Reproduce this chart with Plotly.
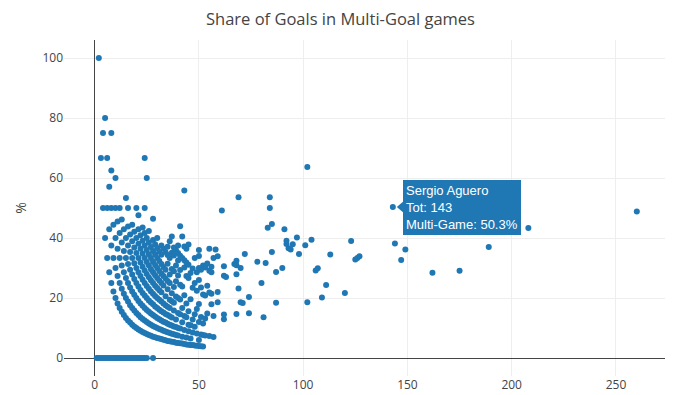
import plotly.graph_objects as go

# Total goals per player (x) and share of those goals scored in multi-goal games, % (y)
total_goals = [
    1,
    2, 2,
    3, 3,
    4, 4, 4,
    5, 5, 5,
    6, 6, 6, 6,
    7, 7, 7, 7,
    8, 8, 8, 8, 8, 8,
    9, 9, 9, 9,
    10, 10, 10, 10, 10, 10,
    11, 11, 11, 11, 11,
    12, 12, 12, 12, 12, 12,
    13, 13, 13, 13, 13, 13,
    14, 14, 14, 14, 14, 14,
    15, 15, 15, 15, 15, 15, 15,
    16, 16, 16, 16, 16, 16, 16, 16,
    17, 17, 17, 17, 17, 17, 17,
    18, 18, 18, 18, 18, 18, 18, 18,
    19, 19, 19, 19, 19, 19, 19, 19,
    20, 20, 20, 20, 20, 20, 20, 20, 20,
    21, 21, 21, 21, 21, 21, 21, 21, 21, 21,
    22, 22, 22, 22, 22, 22, 22, 22, 22,
    23, 23, 23, 23, 23, 23, 23, 23, 23, 23,
    24, 24, 24, 24, 24, 24, 24, 24, 24, 24, 24, 24,
    25, 25, 25, 25, 25, 25, 25, 25, 25, 25, 25,
    26, 26, 26, 26, 26, 26, 26, 26, 26, 26,
    27, 27, 27, 27, 27, 27, 27, 27, 27,
    28, 28, 28, 28, 28, 28, 28, 28, 28, 28, 28, 28,
    29, 29, 29, 29, 29, 29, 29, 29, 29, 29,
    30, 30, 30, 30, 30, 30, 30, 30, 30, 30, 30,
    31, 31, 31, 31, 31, 31, 31, 31, 31, 31,
    32, 32, 32, 32, 32, 32, 32, 32, 32, 32, 32,
    33, 33, 33, 33, 33, 33, 33, 33, 33,
    34, 34, 34, 34, 34, 34, 34, 34, 34,
    35, 35, 35, 35, 35, 35, 35, 35, 35, 35,
    36, 36, 36, 36, 36, 36, 36, 36, 36, 36,
    37, 37, 37, 37, 37, 37, 37, 37, 37,
    38, 38, 38, 38, 38, 38, 38, 38, 38,
    39, 39, 39, 39, 39, 39, 39, 39,
    40, 40, 40, 40, 40, 40, 40, 40, 40,
    41, 41, 41, 41, 41, 41, 41, 41,
    42, 42, 42, 42, 42, 42, 42,
    43, 43, 43, 43, 43, 43, 43, 43,
    44, 44, 44, 44, 44, 44, 44,
    45, 45, 45, 45, 45, 45, 45,
    46, 46, 46, 46, 46,
    47, 47, 47, 47, 47,
    48, 48, 48, 48, 48,
    49, 49, 49, 49, 49,
    50, 50, 50, 50, 50, 50, 50, 50,
    51, 51, 51, 51, 51,
    52, 52, 52, 52, 52,
    53, 53, 53, 53,
    54, 54, 54,
    55, 55, 55, 55,
    56, 56, 56, 56,
    57, 57, 57,
    58,
    59, 59, 59,
    61,
    62, 62, 62, 62,
    63,
    67,
    68, 68, 68, 68,
    69, 69,
    70, 70,
    71,
    72,
    74, 74,
    78,
    80,
    81,
    82,
    83,
    84, 84,
    85, 85,
    87, 87,
    90,
    91,
    92, 92,
    93,
    94,
    95,
    97,
    98,
    101,
    102, 102,
    104,
    106,
    107,
    109,
    111,
    113,
    120,
    123,
    125,
    126,
    127,
    143,
    144,
    147,
    149,
    162,
    175,
    189,
    208,
    260,
]

multi_goal_share = [
    0,
    0, 100,
    0, 66.7,
    0, 50, 75,
    0, 40, 80,
    0, 33.3, 50, 66.7,
    0, 28.6, 42.9, 57.1,
    0, 25, 37.5, 50, 62.5, 75,
    0, 22.2, 33.3, 44.4,
    0, 20, 30, 40, 50, 60,
    0, 18.2, 27.3, 36.4, 45.5,
    0, 16.7, 25, 33.3, 41.7, 50,
    0, 15.4, 23.1, 30.8, 38.5, 46.2,
    0, 14.3, 21.4, 28.6, 35.7, 42.9,
    0, 13.3, 20, 26.7, 33.3, 40, 53.3,
    0, 12.5, 18.8, 25, 31.3, 37.5, 43.8, 50,
    0, 11.8, 17.6, 23.5, 29.4, 35.3, 41.2,
    0, 11.1, 16.7, 22.2, 27.8, 33.3, 38.9, 44.4,
    0, 10.5, 15.8, 21.1, 26.3, 31.6, 36.8, 42.1,
    0, 10, 15, 20, 25, 30, 35, 40, 50,
    0, 9.5, 14.3, 19, 23.8, 28.6, 33.3, 38.1, 42.9, 47.6,
    0, 9.1, 13.6, 18.2, 22.7, 27.3, 31.8, 36.4, 40.9,
    0, 8.7, 13, 17.4, 21.7, 26.1, 30.4, 34.8, 39.1, 43.5,
    0, 8.3, 12.5, 16.7, 20.8, 25, 29.2, 33.3, 37.5, 41.7, 50, 66.7,
    0, 8, 12, 16, 20, 24, 28, 32, 36, 40, 60,
    7.7, 11.5, 15.4, 19.2, 23.1, 26.9, 30.8, 34.6, 38.5, 42.3,
    7.4, 11.1, 14.8, 18.5, 22.2, 25.9, 29.6, 33.3, 37,
    0, 7.1, 10.7, 14.3, 17.9, 21.4, 25, 28.6, 32.1, 35.7, 39.3, 46.4,
    6.9, 10.3, 13.8, 17.2, 20.7, 24.1, 27.6, 31, 34.5, 37.9,
    6.7, 10, 13.3, 16.7, 20, 23.3, 26.7, 30, 33.3, 36.7, 40,
    6.5, 9.7, 12.9, 16.1, 19.4, 22.6, 25.8, 29, 32.3, 35.5,
    6.3, 9.4, 12.5, 15.6, 18.8, 21.9, 25, 28.1, 31.3, 34.4, 37.5,
    6.1, 9.1, 12.1, 15.2, 18.2, 24.2, 27.3, 30.3, 36.4,
    5.9, 8.8, 11.8, 14.7, 17.6, 20.6, 26.5, 29.4, 35.3,
    5.7, 8.6, 11.4, 14.3, 17.1, 22.9, 25.7, 31.4, 34.3, 37.1,
    5.6, 8.3, 11.1, 13.9, 16.7, 19.4, 25, 27.8, 33.3, 38.9,
    5.4, 8.1, 10.8, 13.5, 18.9, 21.6, 29.7, 35.1, 40.5,
    5.3, 7.9, 10.5, 15.8, 18.4, 23.7, 28.9, 34.2, 36.8,
    5.1, 7.7, 10.3, 12.8, 20.5, 25.6, 30.8, 35.9,
    5, 7.5, 10, 15, 20, 27.5, 32.5, 35, 37.5,
    4.9, 9.8, 14.6, 19.5, 24.4, 29.3, 34.1, 43.9,
    4.8, 7.1, 11.9, 16.7, 23.8, 33.3, 40.5,
    4.7, 9.3, 14, 20.9, 30.2, 32.6, 37.2, 55.8,
    4.5, 6.8, 13.6, 18.2, 27.3, 31.8, 36.4,
    4.4, 8.9, 11.1, 15.6, 26.7, 31.1, 37.8,
    4.3, 6.5, 10.9, 19.6, 28.3,
    4.3, 8.5, 12.8, 23.4, 29.8,
    4.2, 10.4, 14.6, 25, 33.3,
    4.1, 8.2, 16.3, 22.4, 28.6,
    4, 6, 12, 18, 26, 30, 34, 36,
    3.9, 7.8, 13.7, 23.5, 29.4,
    3.8, 7.7, 11.5, 21.2, 30.8,
    7.5, 13.2, 20.8, 30.2,
    14.8, 24.1, 31.5,
    7.3, 21.8, 29.1, 36.4,
    17.9, 21.4, 28.6, 30.4,
    7, 14, 33.3,
    36.2,
    18.6, 22, 33.9,
    49.2,
    12.9, 14.5, 27.4, 30.6,
    27,
    31.3,
    14.7, 27.9, 30.9, 32.4,
    23.2, 53.6,
    18.6, 30,
    18.3,
    34.7,
    14.9, 20.3,
    32.1,
    25,
    13.6,
    31.7,
    43.4,
    50, 53.6,
    35.3, 44.7,
    18.4, 28.7,
    30,
    42.9,
    38, 39.1,
    36.6,
    36.2,
    37.9,
    40.2,
    34.7,
    37.6,
    18.6, 63.7,
    39.4,
    29.2,
    29.9,
    20.2,
    24.3,
    34.5,
    21.7,
    39,
    32.8,
    33.3,
    33.9,
    50.3,
    38.2,
    32.7,
    36.2,
    28.4,
    29.1,
    37,
    43.3,
    48.8,
]

assert len(total_goals) == len(multi_goal_share), (len(total_goals), len(multi_goal_share))

title_text = "Share of Goals in Multi-Goal games"
hover_player = "Sergio Aguero"
hover_total = 143
hover_share = 50.3

fig = go.Figure()
fig.add_trace(go.Scatter(
    x=total_goals,
    y=multi_goal_share,
    mode="markers",
    marker=dict(color="#1f77b4", size=6),
    hovertemplate="Tot: %{x}<br>Multi-Game: %{y}%<extra></extra>",
    showlegend=False,
))

# Static copy of the hover label shown in the reference
fig.add_annotation(
    x=hover_total, y=hover_share, xref="x", yref="y",
    text=f"{hover_player}<br>Tot: {hover_total}<br>Multi-Game: {hover_share}%",
    showarrow=False, xanchor="left", yanchor="middle", xshift=10,
    align="left", bgcolor="#1f77b4", bordercolor="#1f77b4", borderpad=2,
    font=dict(family="Arial, Liberation Sans", size=13, color="white"),
)
fig.add_shape(
    type="path", xref="x", yref="y",
    xsizemode="pixel", ysizemode="pixel",
    xanchor=hover_total, yanchor=hover_share,
    path="M 4 0 L 11 6 L 11 -6 Z",
    fillcolor="#1f77b4", line=dict(width=0),
)

# The page body adds an 8px offset, so the figure is sized to fill the rest of the window
fig.update_layout(
    width=665, height=387,
    margin=dict(l=56, r=2, t=32, b=19),
    paper_bgcolor="white", plot_bgcolor="white",
    font=dict(family="Open Sans", size=12, color="#444"),
    title=dict(text=title_text, x=0.5, xref="container", xanchor="center",
               y=0.972, yref="container", yanchor="middle",
               font=dict(size=16.5, color="#444")),
    xaxis=dict(range=[-14.7, 276.4], tickvals=[0, 50, 100, 150, 200, 250],
               showgrid=True, gridcolor="#eee", zeroline=True, zerolinecolor="#444",
               zerolinewidth=1, showline=False, ticks=""),
    yaxis=dict(range=[-6, 106], tickvals=[0, 20, 40, 60, 80, 100],
               showgrid=True, gridcolor="#eee", zeroline=True, zerolinecolor="#444",
               zerolinewidth=1, showline=False, ticks="",
               title=dict(text="%", standoff=12)),
)

fig.write_html("out.html")
